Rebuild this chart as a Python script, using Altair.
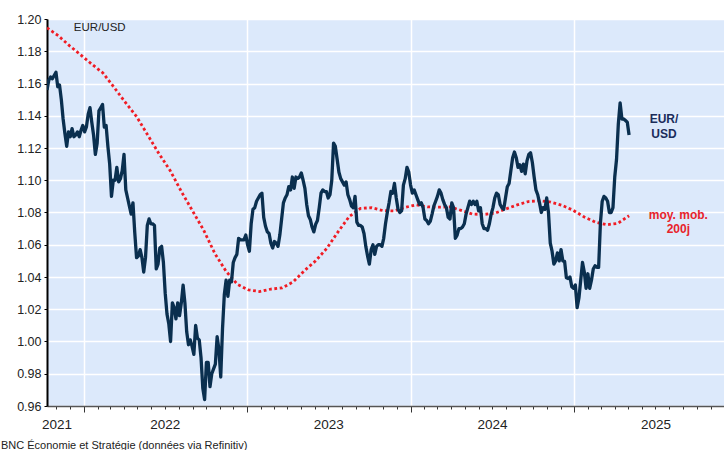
import altair as alt
import pandas as pd

# ---------------- data ----------------
# EUR/USD, one reading every 4 days starting 2021-10-11
fx_start = "2021-10-11"
fx_freq = "4D"
fx_values = [
    1.156, 1.162, 1.164, 1.163, 1.165, 1.167, 1.158, 1.159, 1.150, 1.138,
    1.129, 1.121, 1.130, 1.127, 1.132, 1.127, 1.128, 1.130, 1.127, 1.131,
    1.134, 1.130, 1.133, 1.141, 1.145, 1.136, 1.128, 1.116, 1.123, 1.143,
    1.145, 1.147, 1.133, 1.134, 1.121, 1.110, 1.090, 1.100, 1.100, 1.108,
    1.099, 1.101, 1.106, 1.116, 1.094, 1.089, 1.084, 1.079, 1.086, 1.0675,
    1.052, 1.053, 1.057, 1.052, 1.043, 1.052, 1.072, 1.076, 1.073, 1.073,
    1.072, 1.045, 1.048, 1.058, 1.059, 1.049, 1.030, 1.017, 1.011, 1.000,
    1.024, 1.021, 1.014, 1.024, 1.016, 1.024, 1.035, 1.024, 1.006, 0.998,
    1.001, 0.997, 0.992, 1.010, 1.002, 1.001, 0.990, 0.971, 0.964, 0.987,
    0.987, 0.972, 0.980, 0.983, 0.986, 1.003, 0.995, 0.978, 1.008, 1.029,
    1.038, 1.028, 1.038, 1.037, 1.049, 1.052, 1.054, 1.064, 1.063, 1.063,
    1.063, 1.066, 1.060, 1.056, 1.073, 1.082, 1.083, 1.087, 1.089, 1.091,
    1.092, 1.077, 1.0715, 1.068, 1.067, 1.061, 1.058, 1.062, 1.061, 1.059,
    1.066, 1.076, 1.086, 1.089, 1.091, 1.096, 1.094, 1.102, 1.095, 1.102,
    1.101, 1.102, 1.1045, 1.100, 1.095, 1.085, 1.078, 1.0757, 1.071, 1.068,
    1.0727, 1.075, 1.083, 1.092, 1.094, 1.093, 1.093, 1.089, 1.091, 1.100,
    1.123, 1.121, 1.113, 1.105, 1.101, 1.099, 1.097, 1.099, 1.091, 1.088,
    1.084, 1.083, 1.090, 1.074, 1.072, 1.072, 1.071, 1.067, 1.059, 1.053,
    1.048, 1.057, 1.060, 1.054, 1.059, 1.060, 1.060, 1.059, 1.064, 1.073,
    1.080, 1.086, 1.093, 1.092, 1.098, 1.089, 1.082, 1.080, 1.081, 1.097,
    1.101, 1.108, 1.105, 1.097, 1.092, 1.094, 1.091, 1.088, 1.085, 1.086,
    1.083, 1.076, 1.075, 1.073, 1.0745, 1.079, 1.084, 1.087, 1.090, 1.094,
    1.092, 1.088, 1.085, 1.083, 1.077, 1.076, 1.086, 1.083, 1.064, 1.066,
    1.070, 1.070, 1.071, 1.073, 1.079, 1.083, 1.087, 1.085, 1.087, 1.085,
    1.087, 1.081, 1.083, 1.073, 1.070, 1.070, 1.069, 1.073, 1.079, 1.083,
    1.089, 1.092, 1.091, 1.085, 1.083, 1.082, 1.089, 1.096, 1.098, 1.106,
    1.114, 1.1175, 1.114, 1.108, 1.1096, 1.1055, 1.110, 1.104, 1.112, 1.116,
    1.117, 1.111, 1.102, 1.094, 1.091, 1.086, 1.080, 1.083, 1.082, 1.089,
    1.080, 1.061, 1.056, 1.048, 1.050, 1.055, 1.050, 1.057, 1.050, 1.0497,
    1.0395, 1.039, 1.040, 1.034, 1.033, 1.035, 1.021, 1.027, 1.038, 1.049,
    1.043, 1.033, 1.042, 1.033, 1.038, 1.045, 1.047, 1.046, 1.046, 1.0735,
    1.087, 1.090, 1.089, 1.087, 1.080, 1.080, 1.083, 1.102, 1.113, 1.135,
    1.148, 1.138, 1.138, 1.137, 1.136, 1.128,
]

# 200-day moving average, one reading every 25 days starting 2021-10-11
ma_start = "2021-10-11"
ma_freq = "25D"
ma_values = [
    1.1945, 1.1897, 1.1835, 1.1778, 1.1720, 1.1665, 1.1575, 1.1483, 1.1395, 1.1280,
    1.1165, 1.1060, 1.0930, 1.0810, 1.0690, 1.0545, 1.0435, 1.0355, 1.0320, 1.0310,
    1.0325, 1.0332, 1.0370, 1.0440, 1.0500, 1.0578, 1.0680, 1.0775, 1.0825, 1.0830,
    1.0812, 1.0810, 1.0832, 1.0848, 1.0835, 1.0833, 1.0835, 1.0813, 1.0790, 1.0788,
    1.0795, 1.0822, 1.0847, 1.0868, 1.0873, 1.0865, 1.0845, 1.0814, 1.0772, 1.0740,
    1.0724, 1.0733, 1.0780,
]

y_ticks = [0.96, 0.98, 1.00, 1.02, 1.04, 1.06, 1.08, 1.10, 1.12, 1.14, 1.16, 1.18, 1.20]
x_domain = [(2021, 10, 11), (2025, 12, 1)]
month_ticks = [(y, m) for y in range(2021, 2026) for m in range(1, 13)
               if (y, m) >= (2021, 11) and (y, m) <= (2025, 11)]

source_text = "BNC Économie et Stratégie (données via Refinitiv)"
label_titre = ["EUR/USD"]
label_titre_pos = [("2021-12-10", 1.1947)]
label_fx = ["EUR/\nUSD"]
label_fx_pos = [("2025-07-20", 1.1381)]
label_ma = ["moy. mob.\n200j"]
label_ma_pos = [("2025-08-21", 1.0786)]

# ---------------- tables ----------------
fx_df = pd.DataFrame({
    "date": pd.date_range(fx_start, periods=len(fx_values), freq=fx_freq).strftime("%Y-%m-%d"),
    "value": fx_values,
})
ma_df = pd.DataFrame({
    "date": pd.date_range(ma_start, periods=len(ma_values), freq=ma_freq).strftime("%Y-%m-%d"),
    "value": ma_values,
})


def label_df(texts, pos):
    return pd.DataFrame({"date": [p[0] for p in pos], "value": [p[1] for p in pos], "label": texts})


FONT = "Liberation Sans"
is_jan = "utcmonth(datum.value) == 0"

x_axis = alt.Axis(
    values=[alt.DateTime(year=y, month=m, date=1, utc=True) for y, m in month_ticks],
    title=None,
    labelExpr="(utcmonth(datum.value) == 6 || (utcyear(datum.value) == 2021 && utcmonth(datum.value) == 10)) ? '' + utcyear(datum.value) : ''",
    labelFont=FONT, labelFontSize=13.5, labelColor="#222222", labelPadding=8,
    labelOverlap=False, labelFlush=False, labelBound=False,
    grid=True, gridColor="#ffffff", gridWidth=1.5,
    gridOpacity={"condition": {"test": is_jan, "value": 1}, "value": 0},
    tickSize={"condition": {"test": is_jan, "value": 6}, "value": 3},
    tickColor="#333333", tickWidth=1,
    domainColor="#555555", domainWidth=1.5,
)
y_axis = alt.Axis(
    values=y_ticks, format=".2f", title=None,
    labelFont=FONT, labelFontSize=12.5, labelColor="#222222", labelPadding=3,
    grid=True, gridColor="#ffffff", gridWidth=1.5,
    tickColor="#000000", tickSize=3, tickWidth=1,
    domainColor="#000000", domainWidth=2,
)

x_enc = alt.X("date:T", axis=x_axis, scale=alt.Scale(
    type="utc",
    domain=[alt.DateTime(year=d[0], month=d[1], date=d[2], utc=True) for d in x_domain]))
y_enc = alt.Y("value:Q", axis=y_axis, scale=alt.Scale(domain=[y_ticks[0], y_ticks[-1]], nice=False, zero=False))

ma_line = alt.Chart(ma_df).mark_line(
    color="#f01c24", strokeWidth=2.8, strokeDash=[2.8, 2.6], strokeCap="butt", clip=True
).encode(x=x_enc, y=y_enc)

fx_line = alt.Chart(fx_df).mark_line(
    color="#0a2f4f", strokeWidth=3.3, strokeJoin="round", clip=True
).encode(x=x_enc, y=y_enc)

t_title = alt.Chart(label_df(label_titre, label_titre_pos)).mark_text(
    align="left", baseline="middle", font=FONT, fontSize=11.5, color="#222222"
).encode(x=x_enc, y=y_enc, text="label:N")

t_fx = alt.Chart(label_df(label_fx, label_fx_pos)).mark_text(
    align="center", baseline="middle", font=FONT, fontSize=12, fontWeight="bold",
    color="#1b2d5b", lineBreak="\n", lineHeight=15.5
).encode(x=x_enc, y=y_enc, text="label:N")

t_ma = alt.Chart(label_df(label_ma, label_ma_pos)).mark_text(
    align="center", baseline="middle", font=FONT, fontSize=12, fontWeight="bold",
    color="#e8232b", lineBreak="\n", lineHeight=14
).encode(x=x_enc, y=y_enc, text="label:N")

chart = alt.layer(ma_line, fx_line, t_title, t_fx, t_ma).properties(
    width=677,
    height=387,
    autosize="none",
    padding={"left": 47, "top": 19, "right": 0, "bottom": 44},
    title=alt.TitleParams(
        text=source_text, orient="bottom", anchor="start", frame="group",
        dx=-46, offset=6, font=FONT, fontSize=11, fontWeight="normal", color="#222222",
    ),
).configure_view(fill="#dce9fb", stroke="transparent")

chart.save("out.html", embed_options={"renderer": "svg", "actions": False})
